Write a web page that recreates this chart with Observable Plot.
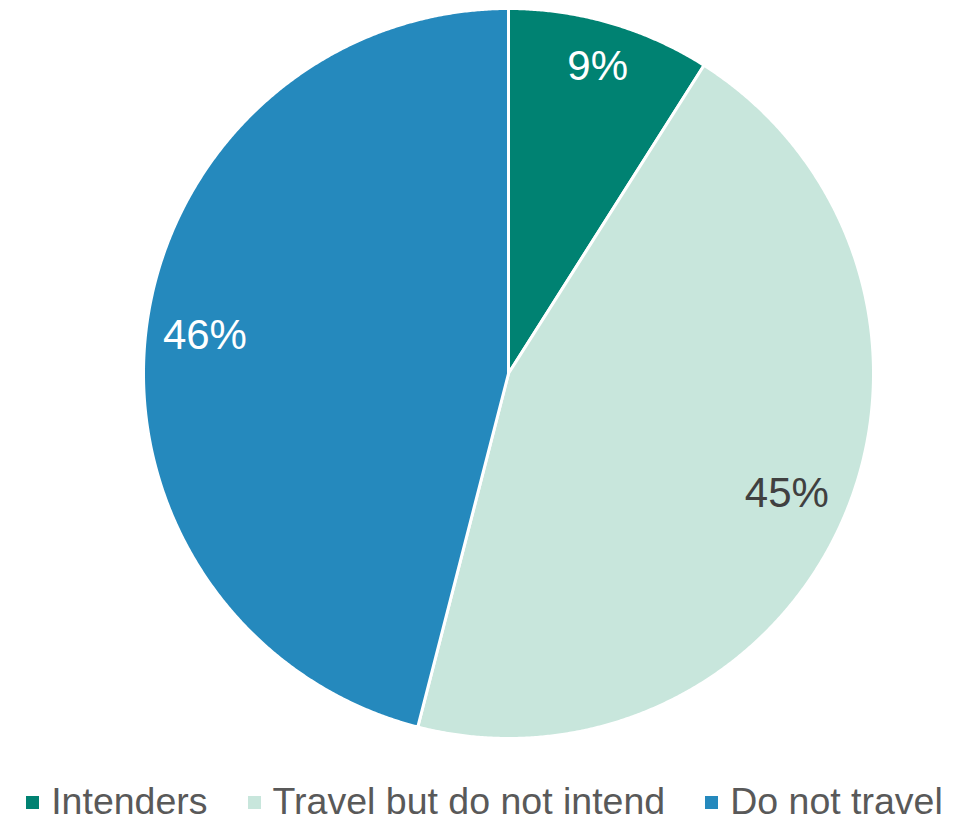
<!DOCTYPE html>
<html>
<head>
<meta charset="utf-8">
<script src="https://cdn.jsdelivr.net/npm/d3@7"></script>
<script src="https://cdn.jsdelivr.net/npm/@observablehq/plot@0.6"></script>
<style>
  html, body { margin: 0; padding: 0; background: #fff; }
  body { width: 969px; height: 822px; position: relative; overflow: hidden; font-family: "Liberation Sans", Arial, sans-serif; }
  #chart svg { display: block; }
  #legend { position: absolute; left: 0; width: 969px; top: 786px; display: flex; justify-content: center; align-items: center; gap: 40px; height: 30px; }
  .item { display: flex; align-items: center; gap: 12px; font-size: 37.5px; color: #595959; line-height: 30px; }
  .sw { width: 13px; height: 13px; display: inline-block; margin-top: 2px; }
</style>
</head>
<body>
<div id="chart"></div>
<div id="legend"></div>
<script>
const categories = ["Intenders", "Travel but do not intend", "Do not travel"];
const values = [9, 45, 46];
const labels = ["9%", "45%", "46%"];
const colors = ["#008272", "#C8E6DC", "#2589BD"];
const labelColors = ["#ffffff", "#404040", "#ffffff"];

const R = 365;           // pie radius in px (x/y range half-width)
const FONT = 42;
const ctx = document.createElement("canvas").getContext("2d");
ctx.font = FONT + 'px "Liberation Sans", Arial, sans-serif';

const total = d3.sum(values);
const slices = [];
const labelRows = [];
let acc = 0;
values.forEach((v, i) => {
  const a0 = acc / total * 2 * Math.PI;
  acc += v;
  const a1 = acc / total * 2 * Math.PI;
  const n = Math.max(2, Math.ceil((a1 - a0) / 0.005));
  slices.push({name: categories[i], x: 0, y: 0});
  for (let k = 0; k <= n; k++) {
    const a = a0 + (a1 - a0) * k / n;
    slices.push({name: categories[i], x: Math.sin(a), y: Math.cos(a)});
  }
  slices.push({name: categories[i], x: 0, y: 0});
  // "inside end" placement: label box's outer corner sits just inside the rim
  const am = (a0 + a1) / 2;
  const ux = Math.sin(am), uy = Math.cos(am);
  const w = ctx.measureText(labels[i]).width;
  const dx = Math.sign(ux) * w / 2, dy = Math.sign(uy) * 23;
  const rin = 351;
  const ud = ux * dx + uy * dy;
  const r = -ud + Math.sqrt(ud * ud - (dx * dx + dy * dy) + rin * rin);
  labelRows.push({label: labels[i], x: r * ux / R, y: r * uy / R, c: labelColors[i]});
});

const chart = Plot.plot({
  width: 969,
  height: 760,
  marginLeft: 143,
  marginRight: 96,
  marginTop: 8,
  marginBottom: 22,
  x: {domain: [-1, 1], axis: null},
  y: {domain: [-1, 1], axis: null},
  color: {domain: categories, range: colors},
  style: {fontFamily: '"Liberation Sans", Arial, sans-serif', background: "#fff"},
  marks: [
    Plot.line(slices, {x: "x", y: "y", z: "name", fill: "name", stroke: "#ffffff", strokeWidth: 3, strokeLinejoin: "round", curve: "linear"}),
    Plot.text(labelRows, {x: "x", y: "y", text: "label", fill: d => d.c, fontSize: FONT})
  ]
});
document.getElementById("chart").appendChild(chart);

const legend = document.getElementById("legend");
categories.forEach((c, i) => {
  const it = document.createElement("div");
  it.className = "item";
  const sw = document.createElement("span");
  sw.className = "sw";
  sw.style.background = colors[i];
  const t = document.createElement("span");
  t.textContent = c;
  it.appendChild(sw);
  it.appendChild(t);
  legend.appendChild(it);
});
</script>
</body>
</html>
